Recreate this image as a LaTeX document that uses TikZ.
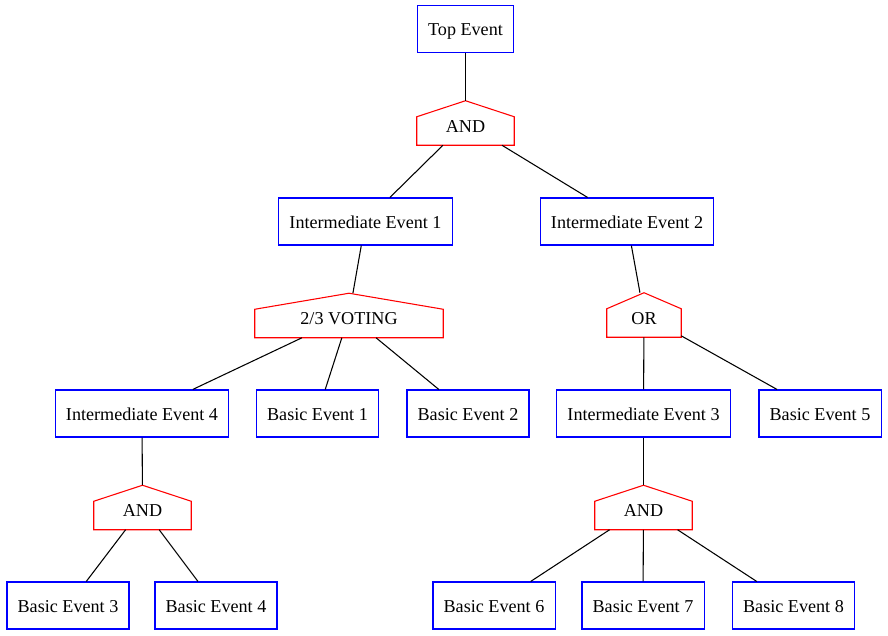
\documentclass[tikz,border=0pt]{standalone}
\usepackage{fontspec}
\setmainfont{Liberation Serif}
\usetikzlibrary{calc}
\tikzset{
  box/.style={draw=blue,line width=0.8pt,inner xsep=8pt,minimum height=35.25pt,text height=9.8pt,text depth=0pt,font=\fontsize{13.6}{16}\selectfont,fill=white},
  gate/.style={inner sep=0pt,minimum height=33pt,text height=13.5pt,text depth=0pt,font=\fontsize{13.6}{16}\selectfont},
  link/.style={draw=black,line width=0.8pt},
}
\begin{document}
\begin{tikzpicture}[x=0.75pt,y=-0.75pt]
\useasboundingbox (0,0) rectangle (888,635);
% events
\node[box] (top) at (465.5,29) {Top Event};
\node[box] (ie1) at (365.5,221.5) {Intermediate Event 1};
\node[box] (ie2) at (627,221.5) {Intermediate Event 2};
\node[box] (ie4) at (142,413.5) {Intermediate Event 4};
\node[box] (be1) at (317.5,413.5) {Basic Event 1};
\node[box] (be2) at (468,413.5) {Basic Event 2};
\node[box] (ie3) at (643.5,413.5) {Intermediate Event 3};
\node[box] (be5) at (820,413.5) {Basic Event 5};
\node[box] (be3) at (68,605.5) {Basic Event 3};
\node[box] (be4) at (216,605.5) {Basic Event 4};
\node[box] (be6) at (494,605.5) {Basic Event 6};
\node[box] (be7) at (643,605.5) {Basic Event 7};
\node[box] (be8) at (793.5,605.5) {Basic Event 8};
% gates
\node[gate,minimum width=72.75pt] (and1) at (465.5,123) {AND};
\node[gate,minimum width=141pt] (vote) at (349,315.5) {2/3 VOTING};
\node[gate,minimum width=55.5pt] (or1) at (644,315) {OR};
\node[gate,minimum width=72.75pt] (and2) at (142.5,507.5) {AND};
\node[gate,minimum width=72.75pt] (and3) at (643.5,507.5) {AND};
\foreach \g in {and1,vote,or1,and2,and3}
  \draw[red,line width=0.8pt,line join=miter] (\g.south west) -- (\g.south east)
    -- ($(\g.north east)!0.36!(\g.south east)$) -- (\g.north)
    -- ($(\g.north west)!0.36!(\g.south west)$) -- cycle;
% links
\draw[link] (top) -- (and1);
\draw[link] (and1) -- (ie1); \draw[link] (and1) -- (ie2);
\draw[link] (ie1) -- (vote); \draw[link] (ie2) -- (or1);
\draw[link] (vote) -- (ie4); \draw[link] (vote) -- (be1); \draw[link] (vote) -- (be2);
\draw[link] (or1) -- (ie3); \draw[link] (or1) -- (be5);
\draw[link] (ie4) -- (and2); \draw[link] (ie3) -- (and3);
\draw[link] (and2) -- (be3); \draw[link] (and2) -- (be4);
\draw[link] (and3) -- (be6); \draw[link] (and3) -- (be7); \draw[link] (and3) -- (be8);
\end{tikzpicture}
\end{document}
